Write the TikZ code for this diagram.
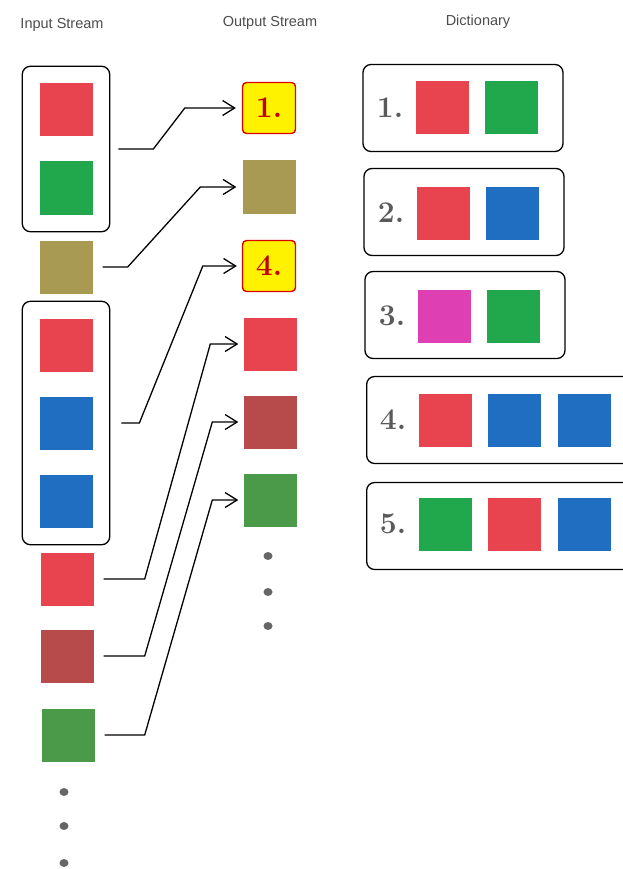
\documentclass[tikz,border=0pt]{standalone}
\usepackage{fontspec}
\usetikzlibrary{fit,arrows.meta}
\newfontfamily\titlefont{Liberation Sans}
\definecolor{cred}{HTML}{E8444F}
\definecolor{cgreen}{HTML}{22A84C}
\definecolor{cblue}{HTML}{1F6EC2}
\definecolor{colive}{HTML}{A89A52}
\definecolor{cmagenta}{HTML}{DE3FB2}
\definecolor{cdkred}{HTML}{B74A4A}
\definecolor{cdkgreen}{HTML}{4B9A4A}
\definecolor{numgray}{HTML}{5A5A5A}
\tikzset{
  sq/.style={fill=#1, minimum width=53, minimum height=53, inner sep=0pt},
  group/.style={draw, line width=1.3pt, rounded corners=8pt, inner xsep=17pt, inner ysep=17pt},
  entry/.style={draw, line width=1.3pt, rounded corners=8pt, minimum height=87, minimum width=#1},
  hit/.style={draw=red!85!black, fill=yellow, line width=1.4pt, rounded corners=4pt,
    minimum width=53, minimum height=51, inner sep=0pt,
    font=\fontsize{30}{32}\selectfont\bfseries, text=red!75!black},
  num/.style={font=\fontsize{30}{32}\selectfont\bfseries, text=numgray},
  title/.style={font=\titlefont\fontsize{14.5}{16}\selectfont, text=black!70},
  flow/.style={line width=1.3pt, -{Straight Barb[length=12pt,width=15pt]}},
  dot/.style={fill=black!60}
}
\begin{document}
\begin{tikzpicture}[x=1pt,y=-1pt]
  \useasboundingbox (0,0) rectangle (623,869);

  \node[title] (tin) at (62,25) {Input Stream};
  \node[title] (tout) at (270,23) {Output Stream};
  \node[title] (tdict) at (478,22) {Dictionary};

  % input stream
  \node[sq=cred] (in1) at (66,110) {};
  \node[sq=cgreen] (in2) at (66,188) {};
  \node[sq=colive] (in3) at (66,267) {};
  \node[sq=cred] (in4) at (66,345) {};
  \node[sq=cblue] (in5) at (66,423) {};
  \node[sq=cblue] (in6) at (66,501) {};
  \node[sq=cred] (in7) at (67,579) {};
  \node[sq=cdkred] (in8) at (67,656) {};
  \node[sq=cdkgreen] (in9) at (68,735) {};
  \node[group, fit=(in1)(in2)] (grpA) {};
  \node[group, fit=(in4)(in6)] (grpB) {};
  \fill[dot] (64,792) ellipse (4.5 and 4);
  \fill[dot] (64,826) ellipse (4.5 and 4);
  \fill[dot] (64,863) ellipse (4.5 and 4);

  % output stream
  \node[hit] (out1) at (269,108) {1.};
  \node[sq=colive] (out2) at (269,187) {};
  \node[hit] (out3) at (269,266) {4.};
  \node[sq=cred] (out4) at (270,344) {};
  \node[sq=cdkred] (out5) at (270,422) {};
  \node[sq=cdkgreen] (out6) at (270,500) {};
  \fill[dot] (268,556) ellipse (4.5 and 4);
  \fill[dot] (268,592) ellipse (4.5 and 4);
  \fill[dot] (268,626) ellipse (4.5 and 4);

  \draw[flow] ([xshift=8pt]grpA.east) -- ++(35,0) -- ([xshift=-57pt]out1.west) -- ([xshift=-6pt]out1.west);
  \draw[flow] ([xshift=10pt]in3.east) -- ++(25,0) -- ([xshift=-42pt]out2.west) -- ([xshift=-6pt]out2.west);
  \draw[flow] ([xshift=11pt]grpB.east) -- ++(18,0) -- ([xshift=-39pt]out3.west) -- ([xshift=-5pt]out3.west);
  \draw[flow] ([xshift=10pt]in7.east) -- ++(41,0) -- ([xshift=-33pt]out4.west) -- ([xshift=-5pt]out4.west);
  \draw[flow] ([xshift=10pt]in8.east) -- ++(41,0) -- ([xshift=-31pt]out5.west) -- ([xshift=-5pt]out5.west);
  \draw[flow] ([xshift=10pt]in9.east) -- ++(40,0) -- ([xshift=-31pt]out6.west) -- ([xshift=-5pt]out6.west);

  % dictionary
  \node[entry=200] (dict1) at (463,108) {};
  \node[entry=200] (dict2) at (464,212) {};
  \node[entry=200] (dict3) at (465,315) {};
  \node[entry=270, anchor=west] (dict4) at (366,420) {};
  \node[entry=270, anchor=west] (dict5) at (366,526) {};

  \node[num] (n1) at (390,108) {1.};
  \node[sq=cred] (d1a) at (442,108) {};
  \node[sq=cgreen] (d1b) at (511,108) {};
  \node[num] (n2) at (391,213) {2.};
  \node[sq=cred] (d2a) at (443,213) {};
  \node[sq=cblue] (d2b) at (512,213) {};
  \node[num] (n3) at (392,316) {3.};
  \node[sq=cmagenta] (d3a) at (444,316) {};
  \node[sq=cgreen] (d3b) at (513,316) {};
  \node[num] (n4) at (393,420) {4.};
  \node[sq=cred] (d4a) at (445,420) {};
  \node[sq=cblue] (d4b) at (514,420) {};
  \node[sq=cblue] (d4c) at (584,420) {};
  \node[num] (n5) at (393,524) {5.};
  \node[sq=cgreen] (d5a) at (445,524) {};
  \node[sq=cred] (d5b) at (514,524) {};
  \node[sq=cblue] (d5c) at (584,524) {};
\end{tikzpicture}
\end{document}
